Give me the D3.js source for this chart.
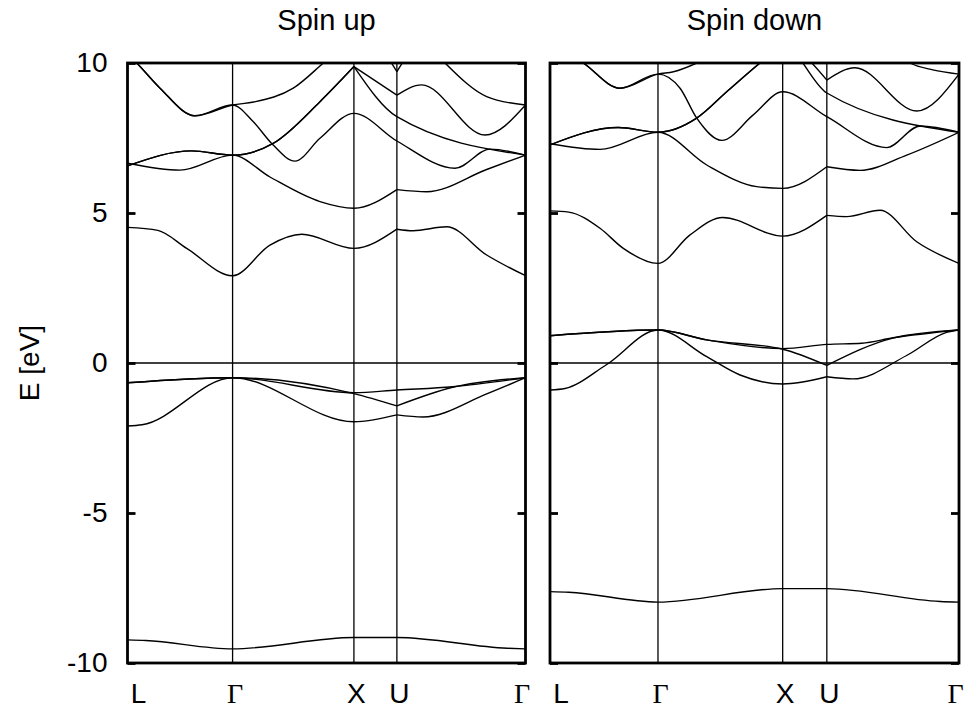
<!DOCTYPE html>
<html>
<head>
<meta charset="utf-8">
<script src="https://cdn.jsdelivr.net/npm/d3@7"></script>
<style>
  body { margin: 0; background: #fff; }
  svg { display: block; }
  text { font-family: "Liberation Sans", Arial, Helvetica, sans-serif; fill: #000; }
</style>
</head>
<body>
<svg id="chart" width="967" height="711"></svg>
<script>
// High-symmetry path L - Γ - X - U - Γ (cumulative k distance, 2π/a units)
const kPoints = [0, 0.866, 1.866, 2.220, 3.280];
const kLabels = ["L", "Γ", "X", "U", "Γ"];
const energyTicks = [-10, -5, 0, 5, 10];
const panelTitles = ["Spin up", "Spin down"];

// Each band is a list of pieces; a new piece starts where the band has a corner.
const spinUpBands = [
  [[[0, -9.23], [0.15, -9.25], [0.866, -9.53], [1.866, -9.15], [2.220, -9.15], [3.13, -9.51], [3.280, -9.53]]],
  [[[0, -2.1], [0.12, -2.06], [0.866, -0.49], [1.866, -1.96], [2.220, -1.73]],
   [[2.220, -1.73], [2.435, -1.80], [2.96, -1.03], [3.280, -0.49]]],
  [[[0, -0.66], [0.866, -0.49], [1.866, -1.02], [2.220, -1.43]],
   [[2.220, -1.43], [2.68, -0.81], [3.280, -0.49]]],
  [[[0, -0.66], [0.866, -0.49], [1.866, -0.99], [2.220, -0.90], [2.68, -0.79], [3.280, -0.49]]],
  [[[0, 4.52], [0.25, 4.42], [0.488, 3.82], [0.866, 2.91], [1.174, 3.93], [1.436, 4.29], [1.866, 3.82], [2.220, 4.46]],
   [[2.220, 4.46], [2.353, 4.41], [2.63, 4.54], [2.96, 3.6], [3.280, 2.91]]],
  [[[0, 6.66], [0.433, 6.43], [0.866, 6.93], [1.174, 6.2], [1.586, 5.38], [1.866, 5.16], [2.220, 5.78]],
   [[2.220, 5.78], [2.466, 5.71], [2.96, 6.45], [3.280, 6.93]]],
  [[[0, 6.57], [0.529, 7.07], [0.866, 6.93], [1.2, 7.32], [1.586, 8.71], [1.866, 9.88]],
   [[1.866, 9.88], [2.220, 8.21], [3.280, 6.93]]],
  [[[0, 6.57], [0.529, 7.07], [0.866, 6.93], [1.2, 7.32], [1.586, 8.71], [1.866, 9.88]],
   [[1.866, 9.88], [2.220, 8.93]],
   [[2.220, 8.93], [2.424, 9.27], [2.946, 7.6], [3.280, 8.6]]],
  [[[0, 10.3], [0.076, 10.0], [0.268, 9.16], [0.556, 8.24], [0.866, 8.6], [1.037, 8.04], [1.188, 7.32], [1.38, 6.73],
    [1.586, 7.49], [1.866, 8.32], [2.220, 7.4], [2.699, 6.49], [2.987, 7.13], [3.280, 6.93]]],
  [[[0, 10.3], [0.076, 10.0], [0.268, 9.16], [0.556, 8.24], [0.866, 8.6], [1.04, 8.7], [1.366, 9.16], [1.614, 10.0], [1.866, 10.9]]],
  [[[2.13, 10.3], [2.220, 9.71]], [[2.220, 9.71], [2.31, 10.3]]],
  [[[2.5, 10.5], [2.617, 10.0], [2.96, 8.88], [3.280, 8.6]]]
];

const spinDownBands = [
  [[[0, -7.62], [0.15, -7.64], [0.866, -7.97], [1.866, -7.52], [2.220, -7.52], [3.13, -7.95], [3.280, -7.97]]],
  [[[0, -0.9], [0.12, -0.85], [0.455, -0.05], [0.866, 1.1], [1.257, 0.21], [1.524, -0.4], [1.866, -0.7], [2.220, -0.46]],
   [[2.220, -0.46], [2.43, -0.53], [2.86, 0.25], [3.18, 1.02], [3.280, 1.1]]],
  [[[0, 0.91], [0.866, 1.1], [1.257, 0.77], [1.866, 0.46], [2.220, -0.08]],
   [[2.220, -0.08], [2.75, 0.83], [3.280, 1.1]]],
  [[[0, 0.91], [0.866, 1.1], [1.257, 0.77], [1.866, 0.48], [2.220, 0.62], [2.5, 0.66], [2.75, 0.84], [3.280, 1.1]]],
  [[[0, 5.07], [0.15, 5.03], [0.401, 4.49], [0.588, 3.82], [0.866, 3.32], [1.123, 4.27], [1.385, 4.85], [1.866, 4.23], [2.220, 4.92]],
   [[2.220, 4.92], [2.38, 4.88], [2.647, 5.09], [2.941, 4.04], [3.280, 3.32]]],
  [[[0, 7.31], [0.401, 7.12], [0.866, 7.69], [1.257, 6.6], [1.658, 5.88], [1.866, 5.82], [2.220, 6.54]],
   [[2.220, 6.54], [2.486, 6.42], [2.861, 6.93], [3.280, 7.69]]],
  [[[0, 7.27], [0.548, 7.85], [0.866, 7.69], [1.176, 8.16], [1.417, 9.04], [1.684, 10.0], [1.866, 10.6], [2.220, 9.0], [3.280, 7.69]]],
  [[[0, 7.27], [0.548, 7.85], [0.866, 7.69], [1.176, 8.16], [1.417, 9.04], [1.684, 10.0], [1.866, 10.6], [2.220, 9.43]],
   [[2.220, 9.43], [2.446, 9.84], [2.941, 8.4], [3.280, 9.63]]],
  [[[0, 10.7], [0.267, 10.0], [0.561, 9.16], [0.866, 9.63], [1.043, 9.16], [1.177, 8.16], [1.377, 7.42], [1.63, 8.27],
    [1.866, 9.04], [2.220, 8.21], [2.7, 7.18], [2.967, 7.9], [3.280, 7.69]]],
  [[[0, 10.7], [0.267, 10.0], [0.561, 9.16], [0.866, 9.63], [0.99, 9.71], [1.177, 10.0], [1.4, 10.5]]],
  [[[2.75, 10.4], [2.887, 10.0], [3.07, 9.77], [3.280, 9.63]]]
];

const svg = d3.select("#chart");
const yScale = d3.scaleLinear().domain([-10, 10]).range([663, 63]);

const panels = [
  { x0: 127.5, x1: 525.5, bands: spinUpBands, title: panelTitles[0], showTickLabels: true },
  { x0: 550, x1: 959, bands: spinDownBands, title: panelTitles[1], showTickLabels: false }
];

panels.forEach((p, i) => {
  const xScale = d3.scaleLinear().domain([kPoints[0], kPoints[kPoints.length - 1]]).range([p.x0, p.x1]);
  const g = svg.append("g");
  const clipId = "clip" + i;
  svg.append("clipPath").attr("id", clipId)
    .append("rect").attr("x", p.x0).attr("y", yScale(10))
    .attr("width", p.x1 - p.x0).attr("height", yScale(-10) - yScale(10));

  // Fermi level and high-symmetry lines
  g.append("line").attr("x1", p.x0).attr("x2", p.x1)
    .attr("y1", yScale(0)).attr("y2", yScale(0))
    .attr("stroke", "#000").attr("stroke-width", 1.3);
  g.selectAll(".ksym").data(kPoints.slice(1, -1)).join("line")
    .attr("x1", d => xScale(d)).attr("x2", d => xScale(d))
    .attr("y1", yScale(10)).attr("y2", yScale(-10))
    .attr("stroke", "#000").attr("stroke-width", 1.3);

  // Bands
  const line = d3.line().x(d => xScale(d[0])).y(d => yScale(d[1])).curve(d3.curveMonotoneX);
  const pieces = p.bands.flat();
  g.append("g").attr("clip-path", `url(#${clipId})`)
    .selectAll("path").data(pieces).join("path")
    .attr("d", line).attr("fill", "none").attr("stroke", "#000").attr("stroke-width", 1.4);

  // Frame
  g.append("rect").attr("x", p.x0).attr("y", yScale(10))
    .attr("width", p.x1 - p.x0).attr("height", yScale(-10) - yScale(10))
    .attr("fill", "none").attr("stroke", "#000").attr("stroke-width", 2.8);

  // Inward ticks on both sides
  const leftAxis = d3.axisRight(yScale).tickValues(energyTicks).tickSize(8).tickFormat("");
  const rightAxis = d3.axisLeft(yScale).tickValues(energyTicks).tickSize(8).tickFormat("");
  [[leftAxis, p.x0], [rightAxis, p.x1]].forEach(([ax, x]) => {
    const a = g.append("g").attr("transform", `translate(${x},0)`).call(ax);
    a.select(".domain").remove();
    a.selectAll(".tick line").attr("stroke", "#000").attr("stroke-width", 2.8);
  });

  if (p.showTickLabels) {
    const la = g.append("g").attr("transform", `translate(${p.x0},0)`)
      .call(d3.axisLeft(yScale).tickValues(energyTicks).tickSize(0).tickPadding(20).tickFormat(d => String(d)));
    la.select(".domain").remove();
    la.selectAll("text").attr("font-size", 28).attr("font-family", "Liberation Sans, Arial, sans-serif").attr("fill", "#000");
  }

  // k-point labels
  g.selectAll(".klab").data(kLabels).join("text")
    .attr("x", (d, j) => xScale(kPoints[j]) + (j === 0 ? 11 : j === kLabels.length - 1 ? -3.5 : 2.5))
    .attr("y", 703)
    .attr("text-anchor", "middle")
    .attr("font-size", 28)
    .style("font-family", d => d === "Γ" ? "'Liberation Serif', 'Times New Roman', serif" : "'Liberation Sans', Arial, sans-serif")
    .text(d => d);

  // Panel title
  g.append("text").attr("x", (p.x0 + p.x1) / 2).attr("y", 30)
    .attr("text-anchor", "middle").attr("font-size", 29).text(p.title);
});

// Energy axis title
svg.append("text")
  .attr("transform", `translate(39,${yScale(0)}) rotate(-90)`)
  .attr("text-anchor", "middle").attr("font-size", 28).text("E [eV]");
</script>
</body>
</html>
